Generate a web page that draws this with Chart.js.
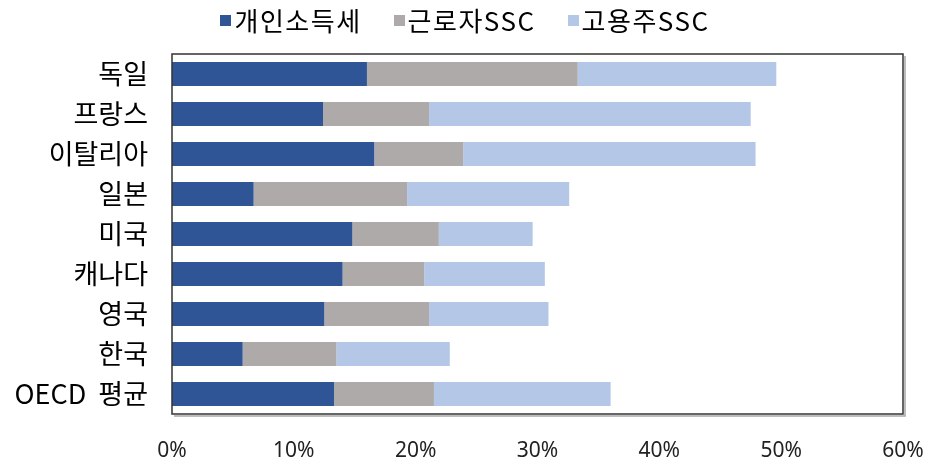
<!DOCTYPE html>
<html>
<head>
<meta charset="utf-8">
<script src="https://cdn.jsdelivr.net/npm/chart.js@4/dist/chart.umd.min.js"></script>
<style>
    html, body { margin: 0; padding: 0; background: #fff; }
    #wrap { position: relative; width: 930px; height: 462px; }
    #legend {
        position: absolute; left: 0; top: 4px; width: 930px;
        display: flex; justify-content: center; gap: 32px;
        font-family: "Noto Sans CJK KR", "Noto Sans", sans-serif; font-size: 26px; color: #000;
        line-height: 32px; letter-spacing: 1.5px;
    }
    .item { display: flex; align-items: center; }
    .box { width: 11px; height: 11px; margin-right: 3px; }
</style>
</head>
<body>
<div id="wrap">
    <div id="legend"></div>
    <canvas id="chart" width="930" height="462"></canvas>
</div>
<script>
// ==================== DATA ====================
const countries = ['독일', '프랑스', '이탈리아', '일본', '미국', '캐나다', '영국', '한국', 'OECD  평균'];
const seriesNames = ['개인소득세', '근로자SSC', '고용주SSC'];
const incomeTax   = [16.0, 12.4, 16.6, 6.7, 14.8, 14.0, 12.5, 5.8, 13.3];
const employeeSSC = [17.3, 8.7, 7.3, 12.6, 7.1, 6.7, 8.6, 7.7, 8.2];
const employerSSC = [16.3, 26.4, 24.0, 13.3, 7.7, 9.9, 9.8, 9.3, 14.5];
const xTicks = [0, 10, 20, 30, 40, 50, 60];

const colors = ['#2F5597', '#AEAAAA', '#B4C7E7'];
const KR_FONT = '"Noto Sans CJK KR", "Noto Sans", sans-serif';

// frame around plot area with a soft shadow on right/bottom
const framePlugin = {
    id: 'frame',
    afterDatasetsDraw(chart) {
        const { ctx, chartArea: a } = chart;
        ctx.save();
        ctx.strokeStyle = '#A8A8A8';
        ctx.lineWidth = 1.5;
        ctx.beginPath();
        ctx.moveTo(a.right + 2, a.top + 2);
        ctx.lineTo(a.right + 2, a.bottom + 2);
        ctx.lineTo(a.left + 2, a.bottom + 2);
        ctx.stroke();
        ctx.strokeStyle = '#333';
        ctx.lineWidth = 1.5;
        ctx.strokeRect(a.left, a.top, a.right - a.left, a.bottom - a.top);
        ctx.restore();
    }
};

const datasets = [incomeTax, employeeSSC, employerSSC].map((vals, i) => ({
    label: seriesNames[i],
    data: vals,
    backgroundColor: colors[i],
    borderWidth: 0,
    barPercentage: 0.6,
    categoryPercentage: 1.0
}));

const chart = new Chart(document.getElementById('chart'), {
    type: 'bar',
    data: { labels: countries, datasets },
    options: {
        indexAxis: 'y',
        responsive: false,
        animation: false,
        layout: { padding: { top: 54, right: 27, left: 0, bottom: 0 } },
        plugins: {
            legend: { display: false },
            tooltip: { enabled: false }
        },
        scales: {
            x: {
                stacked: true,
                min: 0,
                max: 60,
                afterBuildTicks: s => { s.ticks = xTicks.map(v => ({ value: v })); },
                afterFit: s => {
                    s.height = 48;
                    // the end labels may overhang, the frame stays put
                    s.paddingLeft = 0;
                    s.paddingRight = 0;
                },
                grid: { display: false, drawTicks: false },
                border: { display: false },
                ticks: {
                    padding: 24,
                    color: '#222',
                    font: { family: '"Noto Sans", sans-serif', size: 21 },
                    callback: v => v + '%'
                }
            },
            y: {
                stacked: true,
                afterFit: s => { s.width = 172; },
                grid: { display: false, drawTicks: false },
                border: { display: false },
                ticks: {
                    padding: 24,
                    color: '#000',
                    font: { family: KR_FONT, size: 27 }
                }
            }
        }
    },
    plugins: [framePlugin]
});

// legend built from the chart's datasets
const legend = document.getElementById('legend');
chart.data.datasets.forEach(ds => {
    const item = document.createElement('div');
    item.className = 'item';
    item.innerHTML = `<span class="box" style="background:${ds.backgroundColor}"></span><span>${ds.label}</span>`;
    legend.appendChild(item);
});
</script>
</body>
</html>
